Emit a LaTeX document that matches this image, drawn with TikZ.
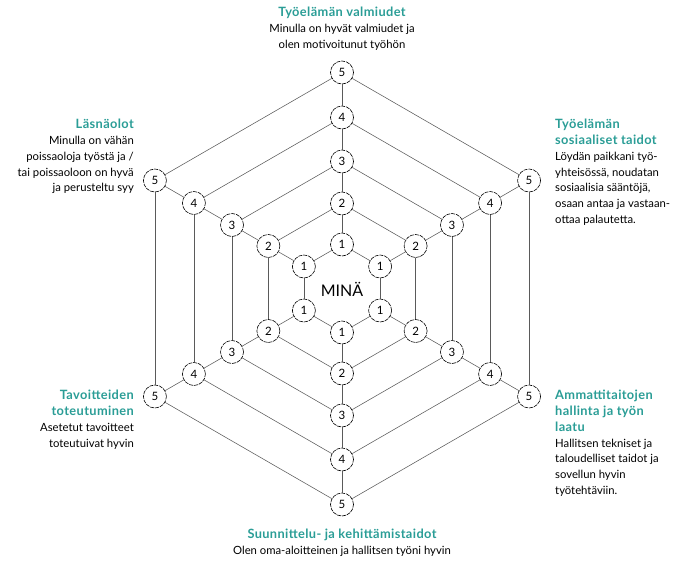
\documentclass[tikz,border=0pt]{standalone}
\usepackage{fontspec}
\setmainfont{Lato}
\usetikzlibrary{calc}
\definecolor{tealtitle}{HTML}{2A9D96}
\definecolor{linegray}{HTML}{5A5A5A}
\tikzset{
  vnode/.style={circle, draw=black, line width=0.6pt, dash pattern=on 4pt off 0.9pt, fill=white, minimum size=23pt, inner sep=0pt, font=\fontsize{11.5}{12}\selectfont},
  web/.style={draw=linegray, line width=0.55pt},
  lbl/.style={inner sep=0pt, font=\fontsize{11.3}{15.8}\selectfont},
}
\newcommand{\ttl}[1]{{\fontsize{12.8}{15.8}\selectfont\bfseries\addfontfeatures{LetterSpace=3}\color{tealtitle}#1}}
\begin{document}
\begin{tikzpicture}
\useasboundingbox (0,0) rectangle (673pt,-565pt);
\coordinate (C) at (342pt,-288.5pt);
\foreach \l/\r in {1/44,2/85,3/127,4/171,5/216} {
  \foreach \d/\a in {0/90,1/30,2/-30,3/-90,4/-150,5/150} {
    \node[vnode] (v\l-\d) at ($(C)+(\a:\r pt)$) {\l};
  }
}
\foreach \l in {1,...,5} {
  \foreach \d/\e in {0/1,1/2,2/3,3/4,4/5,5/0} {
    \draw[web] (v\l-\d) -- (v\l-\e);
  }
}
\foreach \l/\m in {1/2,2/3,3/4,4/5} {
  \foreach \d in {0,...,5} {
    \draw[web] (v\l-\d) -- (v\m-\d);
  }
}
\node[font=\fontsize{16}{18}\selectfont] (mina) at ($(C)+(0,-1pt)$) {MINÄ};
% top
\node[lbl, align=center, anchor=north] (ttop) at (342pt,-7pt)
  {\ttl{Työelämän valmiudet}\\Minulla on hyvät valmiudet ja\\olen motivoitunut työhön};
% upper left
\node[lbl, align=right, anchor=north east] (tul) at (134pt,-119pt)
  {\ttl{Läsnäolot}\\Minulla on vähän\\poissaoloja työstä ja /\\tai poissaoloon on hyvä\\ja perusteltu syy};
% upper right
\node[lbl, align=left, anchor=north west] (tur) at (555pt,-119pt)
  {\ttl{Työelämän}\\\ttl{sosiaaliset taidot}\\Löydän paikkani työ-\\yhteisössä, noudatan\\sosiaalisia sääntöjä,\\osaan antaa ja vastaan-\\ottaa palautetta.};
% lower left
\node[lbl, align=right, anchor=north east] (tll) at (134pt,-390pt)
  {\ttl{Tavoitteiden}\\\ttl{toteutuminen}\\Asetetut tavoitteet\\toteutuivat hyvin};
% lower right
\node[lbl, align=left, anchor=north west] (tlr) at (555pt,-390pt)
  {\ttl{Ammattitaitojen}\\\ttl{hallinta ja työn}\\\ttl{laatu}\\Hallitsen tekniset ja\\taloudelliset taidot ja\\sovellun hyvin\\työtehtäviin.};
% bottom
\node[lbl, align=center, anchor=north] (tbot) at (342pt,-529pt)
  {\ttl{Suunnittelu- ja kehittämistaidot}\\Olen oma-aloitteinen ja hallitsen työni hyvin};
\end{tikzpicture}
\end{document}
